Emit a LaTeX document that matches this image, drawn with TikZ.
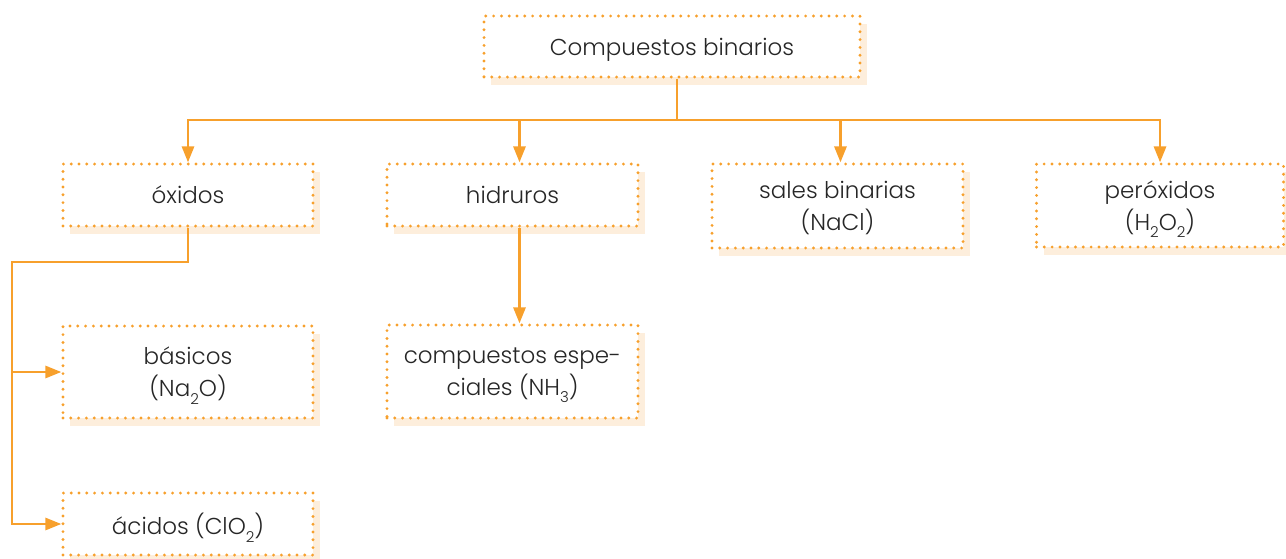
\documentclass[tikz,border=0pt]{standalone}
\usepackage{fontspec}
\setmainfont{Poppins}[UprightFont=* Light]
\usetikzlibrary{arrows.meta,positioning,shadows}
\definecolor{orangeln}{HTML}{F7A02C}
\definecolor{peach}{HTML}{FDEEDC}
\definecolor{inkgray}{HTML}{262626}
\newcommand{\chemsub}[1]{\raisebox{-0.6ex}{\fontsize{15}{15}\selectfont #1}}

\begin{document}
\begin{tikzpicture}[x=1pt, y=-1pt,
  box/.style={draw=orangeln, line width=3.2pt, line cap=round,
    dash pattern=on 0pt off 7.8pt, fill=white, inner sep=2pt,
    minimum width=250pt, minimum height=62pt, align=center,
    text=inkgray, font=\fontsize{23}{32}\selectfont, text depth=0pt,
    drop shadow={shadow xshift=7pt, shadow yshift=-8pt, fill=peach, opacity=1}},
  ln/.style={draw=orangeln, line width=2.8pt, line join=miter},
  arr/.style={ln, -{Triangle[length=16pt, width=12pt]}}]
  \useasboundingbox (0,0) rectangle (1286,558);
  % boxes
  \node[box, minimum width=376pt, minimum height=61pt] (top) at (672,46.5) {Compuestos binarios};
  \node[box] (ox) at (188,195) {óxidos};
  \node[box, minimum width=251pt] (hid) at (512.5,195) {hidruros};
  \node[box, minimum width=251pt, minimum height=84pt] (sal) at (837.5,206) {sales binarias\\(NaCl)};
  \node[box, minimum width=247pt, minimum height=83pt] (per) at (1160,205.5) {peróxidos\\(H\chemsub{2}O\chemsub{2})};
  \node[box, minimum height=92pt] (bas) at (188,372) {básicos\\(Na\chemsub{2}O)};
  \node[box, minimum width=251pt, minimum height=93pt] (esp) at (512.5,371.5) {compuestos espe-\\ciales (NH\chemsub{3})};
  \node[box] (aci) at (188,524) {ácidos (ClO\chemsub{2})};
  % connectors
  \coordinate (bus) at (0,120);
  \coordinate (trunk) at (12,262);
  \draw[arr] ([xshift=5pt]top.south) |- (ox.north |- bus) -- (ox.north);
  \draw[arr] ([xshift=5pt]top.south) |- (per.north |- bus) -- (per.north);
  \draw[arr] ([xshift=7pt]hid.north |- bus) -- ([xshift=7pt]hid.north);
  \draw[arr] ([xshift=3pt]sal.north |- bus) -- ([xshift=3pt]sal.north);
  \draw[arr] ([xshift=7pt]hid.south) -- ([xshift=7pt]esp.north);
  \draw[arr] (ox.south) |- (trunk) |- (aci.west);
  \draw[arr] (trunk |- bas.west) -- (bas.west);
\end{tikzpicture}
\end{document}
